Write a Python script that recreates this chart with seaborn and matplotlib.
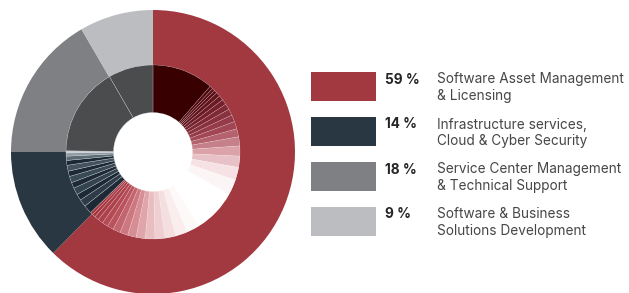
import matplotlib.pyplot as plt
import seaborn as sns
import numpy as np
from matplotlib.colors import LinearSegmentedColormap
from matplotlib.patches import Rectangle

# --- data ---
categories = ["Software Asset Management\n& Licensing",
              "Infrastructure services,\nCloud & Cyber Security",
              "Service Center Management\n& Technical Support",
              "Software & Business\nSolutions Development"]
legend_pct = ["59 %", "14 %", "18 %", "9 %"]
outer_shares = [62.4, 12.6, 16.6, 8.4]

# inner ring: sub-slices of each group (same units as outer_shares)
red_dark = [11.5]
red_fade_out = [0.6, 0.5, 0.6, 0.8, 0.9, 1.0, 1.1, 1.2, 1.3, 1.4, 1.5, 1.7, 1.9, 2.1, 2.4, 2.8]
red_blank = [8.3]
red_fade_in = [2.4, 2.2, 2.0, 1.9, 1.8, 1.7, 1.6, 1.5, 1.4, 1.2, 1.1, 1.0, 0.8, 0.6, 0.5]
navy_inner = [1.6, 1.4, 1.2, 1.3, 1.1, 1.2, 1.0, 1.1, 0.9, 0.8, 0.6, 0.4]
gray_inner = [16.6]
light_inner = [8.4]

# --- styles ---
outer_colors = ["#a23840", "#283741", "#7f8083", "#bcbdc1"]
cmap_out = LinearSegmentedColormap.from_list(
    "out", ["#4e060c", "#7a2430", "#a24654", "#d79aa2", "#f5dfe1", "#ffffff"])
cmap_in = LinearSegmentedColormap.from_list(
    "in", ["#ffffff", "#f8e8e9", "#ecc7ca", "#d68b92", "#b8505a", "#a2323c"])
navy_colors = ["#1d2934", "#2d3c48", "#1d2934", "#34444f", "#1d2934", "#3a4a56",
               "#1d2934", "#44535f", "#1d2934", "#5c6a75", "#8f9aa3", "#c9ced2"]


def ramp(sizes, cmap):
    c = np.cumsum(sizes) - np.array(sizes) / 2
    return [cmap(v / sum(sizes)) for v in c]


sns.set_theme(style="white")
plt.rcParams['font.family'] = ['Inter', 'DejaVu Sans']

fig = plt.figure(figsize=(6.29, 2.93), dpi=100)

R = 142.0
# donut axes: centre (153,152) px, radius 142 px
ax = fig.add_axes([11 / 629, -1 / 293, 284 / 629, 284 / 293])

ax.pie(outer_shares, colors=outer_colors, radius=1.0, startangle=90,
       counterclock=False, wedgeprops=dict(width=(R - 87) / R, linewidth=0))

inner_sizes = red_dark + red_fade_out + red_blank + red_fade_in + navy_inner + gray_inner + light_inner
inner_colors = (["#380000"] + ramp(red_fade_out, cmap_out) + ["#ffffff"]
                + ramp(red_fade_in, cmap_in) + navy_colors + ["#4b4c4e", "#4b4c4e"])
wedges, _ = ax.pie(inner_sizes, colors=inner_colors, radius=87 / R, startangle=90,
                   counterclock=False,
                   wedgeprops=dict(width=(87 - 39.5) / R, linewidth=0.3))
n_red = len(red_dark + red_fade_out + red_blank + red_fade_in)
for k, w in enumerate(wedges):
    if k < n_red:
        w.set_edgecolor((1, 1, 1, 0.35))
    else:
        w.set_edgecolor((0.82, 0.84, 0.86, 0.7))
ax.set_xlim(-1, 1)
ax.set_ylim(-1, 1)
ax.set_aspect('equal')
ax.axis('off')

# legend drawn in pixel coordinates
lax = fig.add_axes([0, 0, 1, 1])
lax.set_xlim(0, 629)
lax.set_ylim(293, 0)
lax.axis('off')
lax.patch.set_alpha(0)
for i, (lab, pct, col) in enumerate(zip(categories, legend_pct, outer_colors)):
    y = 72 + i * 45
    lax.add_patch(Rectangle((311, y), 65, 29, color=col, lw=0))
    lax.text(385, y + 0.5, pct, fontsize=9.8, fontweight='bold', color="#262626", va='top')
    lax.text(437, y + 0.5, lab, fontsize=9.8, color="#464646", va='top', linespacing=1.22)

fig.savefig("out.png", dpi=100)
plt.close(fig)
